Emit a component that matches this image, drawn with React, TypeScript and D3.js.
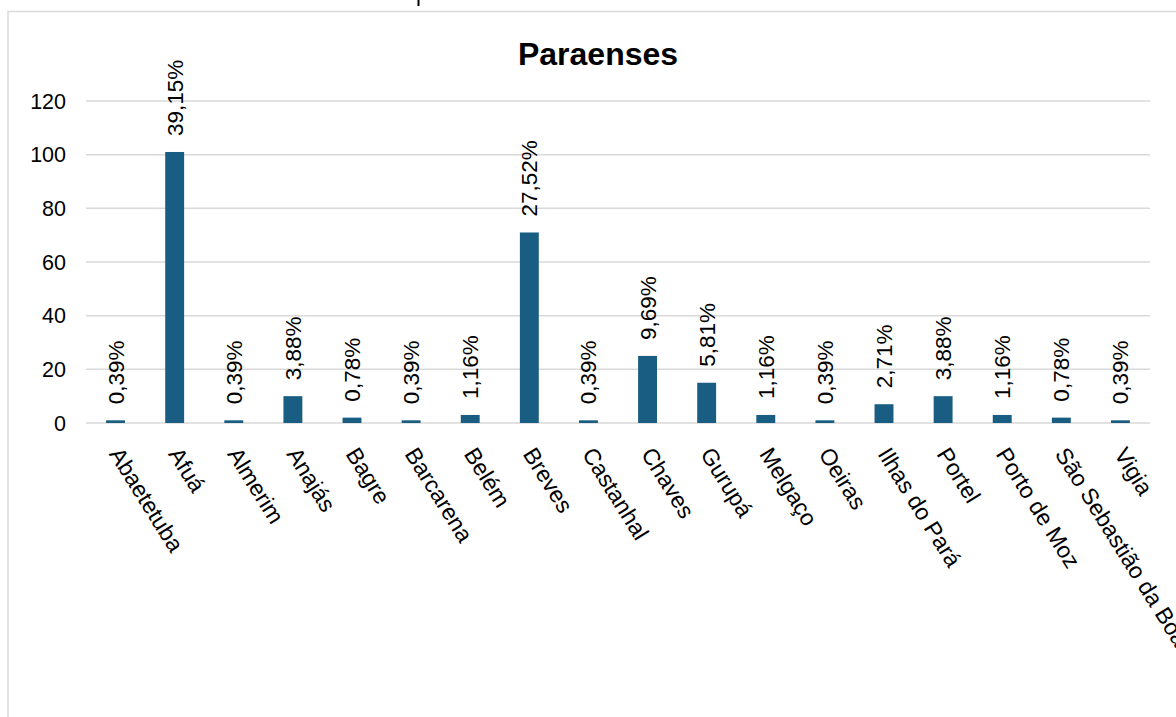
import React from 'react';
import * as d3 from 'd3';

const municipios = [
  'Abaetetuba', 'Afuá', 'Almerim', 'Anajás', 'Bagre', 'Barcarena', 'Belém', 'Breves',
  'Castanhal', 'Chaves', 'Gurupá', 'Melgaço', 'Oeiras', 'Ilhas do Pará', 'Portel',
  'Porto de Moz', 'São Sebastião da Boa Vista', 'Vigia',
];
const contagens = [1, 101, 1, 10, 2, 1, 3, 71, 1, 25, 15, 3, 1, 7, 10, 3, 2, 1];
const rotulos = [
  '0,39%', '39,15%', '0,39%', '3,88%', '0,78%', '0,39%', '1,16%', '27,52%',
  '0,39%', '9,69%', '5,81%', '1,16%', '0,39%', '2,71%', '3,88%', '1,16%', '0,78%', '0,39%',
];
const yTicks = [0, 20, 40, 60, 80, 100, 120];

const W = 1176;
const H = 717;
const margin = {left: 86, right: 26, top: 101, bottom: 294};

export default function App() {
  const x = d3
    .scaleBand<string>()
    .domain(municipios)
    .range([margin.left, W - margin.right])
    .paddingInner(0.68)
    .paddingOuter(0.34);
  const y = d3.scaleLinear().domain([0, 120]).range([H - margin.bottom, margin.top]);
  const font = '"Liberation Sans", Arial, sans-serif';

  return (
    <svg
      width={W}
      height={H}
      style={{position: 'absolute', left: 0, top: 0, background: '#fff'}}
      fontFamily={font}
    >
      {/* chart frame, cut off by the screenshot */}
      <rect x={8} y={11.5} width={W + 20} height={H + 20} fill="none" stroke="#d9d9d9" strokeWidth={1.5} />
      <line x1={418.5} x2={418.5} y1={0} y2={6} stroke="#000" strokeWidth={2} />

      <text x={598} y={65} textAnchor="middle" fontSize={32} fontWeight="bold" fill="#000">
        Paraenses
      </text>

      {yTicks.map((t) => (
        <g key={t}>
          <line
            x1={margin.left}
            x2={W - margin.right}
            y1={y(t)}
            y2={y(t)}
            stroke="#d9d9d9"
            strokeWidth={1.5}
          />
          <text x={66} y={y(t)} dy="0.36em" textAnchor="end" fontSize={21.5} fill="#000">
            {t}
          </text>
        </g>
      ))}

      {municipios.map((m, i) => {
        const cx = (x(m) as number) + x.bandwidth() / 2;
        const top = y(contagens[i]);
        return (
          <g key={m}>
            <rect
              x={x(m)}
              y={top}
              width={x.bandwidth()}
              height={y(0) - top}
              fill="#195e82"
            />
            <text
              transform={`translate(${cx + 8},${top - 16}) rotate(-90)`}
              fontSize={22.5}
              fill="#000"
            >
              {rotulos[i]}
            </text>
            <text
              transform={`translate(${cx - 7},${y(0) + 31}) rotate(58)`}
              fontSize={23}
              fill="#000"
            >
              {m}
            </text>
          </g>
        );
      })}
    </svg>
  );
}
